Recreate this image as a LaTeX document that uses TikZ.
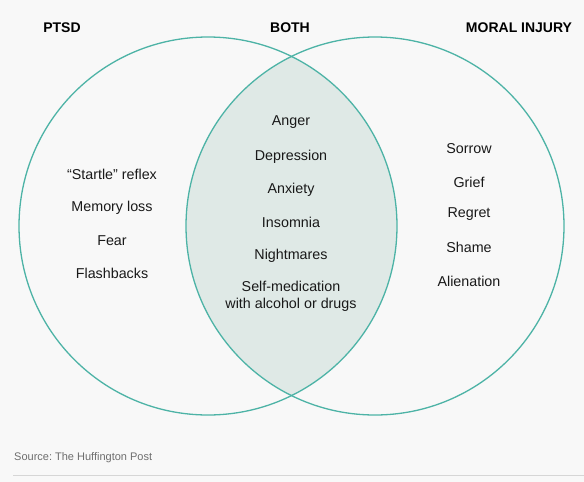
\documentclass[tikz,border=0pt]{standalone}
\usepackage{fontspec}
\setmainfont{Liberation Sans}
\frenchspacing
\definecolor{bgc}{HTML}{F8F8F8}
\definecolor{ringc}{HTML}{4DB3A6}
\definecolor{lensc}{HTML}{DFE9E6}
\definecolor{srcc}{HTML}{6E6E6E}
\definecolor{rulec}{HTML}{D6D6D6}
\tikzset{
  head/.style={font=\fontsize{14}{16}\selectfont\bfseries, text=black, inner sep=0pt},
  item/.style={font=\fontsize{14.3}{16.5}\selectfont, text=black!90, inner sep=0pt, align=center},
  ring/.style={draw=ringc, line width=1.3pt},
}
\begin{document}
\begin{tikzpicture}[x=1pt,y=-1pt]
\useasboundingbox[fill=bgc] (0,0) rectangle (584,482);
\coordinate (cl) at (208,226);
\coordinate (cr) at (375,226);
\begin{scope}
  \clip (cl) circle (189);
  \fill[lensc] (cr) circle (189);
\end{scope}
\draw[ring] (cl) circle (189);
\draw[ring] (cr) circle (189);
\node[head] (hp) at (62,28) {PTSD};
\node[head] (hb) at (290,28) {BOTH};
\node[head] (hm) at (519,28) {MORAL INJURY};
\node[item] (l1) at (112,174.5) {“Startle” reflex};
\node[item] (l2) at (112,207.5) {Memory loss};
\node[item] (l3) at (112,240.5) {Fear};
\node[item] (l4) at (112,273.5) {Flashbacks};
\node[item] (c1) at (291,122.5) {Anger};
\node[item] (c2) at (291,156.5) {Depression};
\node[item] (c3) at (291,189.5) {Anxiety};
\node[item] (c4) at (291,222.5) {Insomnia};
\node[item] (c5) at (291,255.5) {Nightmares};
\node[item] (c6) at (291,296.5) {Self-medication\\with alcohol or drugs};
\node[item] (r1) at (469,148.5) {Sorrow};
\node[item] (r2) at (469,182.5) {Grief};
\node[item] (r3) at (469,214.5) {Regret};
\node[item] (r4) at (469,247.5) {Shame};
\node[item] (r5) at (469,281.5) {Alienation};
\node[font=\fontsize{11}{13}\selectfont, text=srcc, anchor=west, inner sep=0pt] (src) at (14,457.5) {Source: The Huffington Post};
\coordinate (ra) at (13,475);
\coordinate (rb) at (584,475);
\draw[rulec, line width=1pt] (ra) -- (rb);
\end{tikzpicture}
\end{document}
